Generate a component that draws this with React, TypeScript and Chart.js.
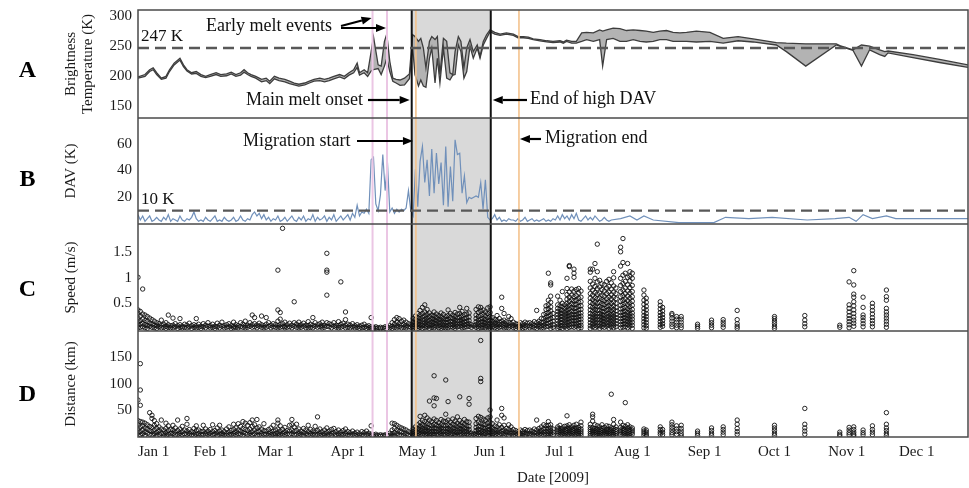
import React, { useEffect, useRef } from 'react';
import { Chart, registerables } from 'chart.js';

Chart.register(...registerables);

const SERIF = "'Liberation Serif', 'Times New Roman', Times, serif";
Chart.defaults.font.family = SERIF;

// ---------- x axis (day of 2009, Jan 1 = 0) ----------
const monthTickDays = [0, 31, 59, 90, 120, 151, 181, 212, 243, 273, 304, 334, 356];
const monthTickLabels = ['Jan 1', 'Feb 1', 'Mar 1', 'Apr 1', 'May 1', 'Jun 1', 'Jul 1', 'Aug 1', 'Sep 1', 'Oct 1', 'Nov 1', 'Dec 1', ''];
const dayRange = [0, 356];

// ---------- events ----------
const earlyMeltDays = [100.6, 106.8];
const meltOnsetDay = 117.4;
const highDavEndDay = 151.3;
const migrationStartDay = 119.2;
const migrationEndDay = 163.4;
const tbThreshold = 247;
const davThreshold = 10;

// ---------- y axes ----------
const tbTicks = [150, 200, 250, 300];
const davTicks = [20, 40, 60];
const speedTicks = [0.5, 1, 1.5];
const distTicks = [50, 100, 150];
const tbRange = [131, 310];
const davRange = [0, 79.3];
const speedRange = [-0.043, 2.055];
const distRange = [-1.2, 200];

// ---------- A: brightness temperature (K) ----------
const tbDays = [
  0, 3, 5, 6.5, 8, 10, 12, 13.5, 15.5, 18,
  19.5, 21, 23, 25, 27, 29, 31, 33.5, 35.5, 38,
  40, 42, 44, 45.5, 47, 48.5, 50.5, 53, 55, 56.5,
  58.5, 60.5, 63, 65, 67, 69, 71.5, 73.5, 75.5, 78,
  80, 82, 84, 86.5, 88.5, 90.5, 92.5, 94, 95, 97,
  98.5, 100, 101, 103, 104.3, 105.7, 106.7, 108, 109.3, 110.7,
  112.4, 114.3, 116.4, 117.8, 118.8, 120.3, 121.3, 122.4, 123.5, 125,
  126, 127.4, 128.4, 129.5, 131, 132.4, 133.8, 135, 136, 137.4,
  138.5, 139.8, 141, 142.4, 143.8, 145.5, 146.7, 148.1, 149.5, 151,
  153, 155.3, 158, 161, 163, 165.3, 167.4, 169.5, 172.4, 175.3,
  178, 181, 182.4, 183.8, 186, 188, 190.3, 192.4, 195.3, 198,
  199.3, 201, 203.8, 206.7, 209.5, 212.4, 215.3, 218, 221, 223.8,
  226.7, 229.5, 232.4, 235.3, 239.5, 245.3, 251, 257.4, 263.8, 273.8,
  278.1, 286.4, 299.5, 301, 306.7, 310.3, 313.8, 318.1, 320.3, 321.7,
  332.4, 343.8, 356,
];
const tbUpper = [
  199, 203, 211, 214, 206, 197, 200, 211, 222, 230,
  219, 211, 206, 208, 203, 200, 203, 206, 203, 204,
  207, 203, 206, 211, 206, 203, 200, 195, 197, 192,
  200, 197, 195, 192, 189, 187, 189, 192, 195, 197,
  195, 197, 200, 203, 200, 206, 211, 222, 206, 211,
  206, 241, 266, 219, 217, 258, 270, 225, 197, 195,
  194, 197, 204, 269, 266, 258, 263, 247, 214, 258,
  266, 261, 266, 203, 263, 258, 206, 203, 241, 266,
  258, 214, 247, 261, 241, 252, 233, 258, 269, 277,
  273, 270, 272, 270, 266, 266, 265, 262, 261, 259,
  258, 259, 257, 260, 258, 258, 272, 273, 272, 277,
  275, 277, 280, 279, 276, 277, 276, 275, 273, 275,
  276, 273, 272, 273, 275, 273, 263, 266, 262, 256,
  255, 254, 254, 251, 244, 252, 250, 244, 241, 242,
  236, 228, 219,
];
const tbLower = [
  197, 200, 208, 211, 203, 195, 197, 208, 219, 227,
  216, 209, 204, 205, 200, 198, 200, 203, 200, 201,
  204, 200, 202, 207, 203, 200, 197, 191, 193, 188,
  196, 193, 191, 188, 186, 184, 186, 189, 192, 193,
  191, 193, 196, 199, 196, 202, 206, 215, 202, 206,
  200, 209, 211, 213, 203, 217, 230, 208, 192, 189,
  185, 186, 196, 247, 203, 184, 194, 184, 182, 230,
  247, 189, 230, 189, 247, 197, 194, 202, 203, 252,
  241, 197, 208, 250, 230, 247, 230, 252, 263, 274,
  270, 268, 270, 268, 264, 264, 263, 261, 259, 257,
  256, 257, 255, 258, 255, 255, 258, 261, 258, 261,
  217, 261, 263, 258, 258, 261, 258, 257, 258, 261,
  261, 258, 258, 258, 257, 258, 255, 259, 257, 252,
  241, 217, 252, 250, 243, 217, 244, 236, 233, 239,
  231, 223, 215,
];

// ---------- B: DAV (K), daily from Jan 1 ----------
const davDaily = [
  7, 3, 6, 2, 4, 6, 2, 3, 5, 3,
  2, 5, 3, 7, 2, 4, 3, 2, 6, 3,
  2, 4, 3, 5, 9, 4, 2, 3, 2, 5,
  3, 2, 4, 6, 2, 3, 2, 5, 3, 2,
  3, 5, 2, 3, 6, 3, 2, 4, 3, 7,
  9, 6, 8, 4, 7, 3, 5, 2, 4, 3,
  6, 2, 3, 5, 2, 4, 6, 3, 2, 5,
  3, 6, 2, 4, 3, 7, 2, 5, 3, 4,
  6, 2, 5, 3, 7, 2, 4, 6, 3, 5,
  7, 3, 8, 5, 14, 6, 9, 8, 11, 8,
  48, 50, 15, 10, 22, 52, 25, 46, 9, 12,
  8, 11, 9, 11, 10, 12, 25, 10, 6, 41,
  13, 47, 58, 31, 48, 21, 56, 23, 53, 30,
  46, 14, 58, 13, 43, 17, 63, 52, 53, 23,
  36, 16, 20, 19, 20, 21, 20, 31, 11, 33,
  5, 3, 4, 7, 3, 5, 2, 3, 2, 4,
  3, 3, 2, 4, 2, 3, 5, 2, 3, 4,
  2, 3, 2, 3, 4, 2, 3, 2, 4, 3,
  6, 3, 7, 4, 6, 3, 7, 4, 8, 3,
  2, 4, 6, 3, 5, 3, 6, 4, 2, 3,
  5, 3, 2, 3,
];
const davLateDays = [207, 211, 214, 217, 221, 232, 240, 247, 252, 262, 272, 287, 299, 305, 308, 311, 315, 321, 325, 340, 356];
const davLateValues = [4, 6, 3, 6, 3, 1, 1, 1, 5, 4, 5, 3, 4, 5, 2, 7, 4, 6, 4, 4, 4];

// ---------- C: speed (m/s) per day ----------
const speedFixes: [number, number[]][] = [
  [0, [1.01, .37, .3, .21, .13, .07, .02]], [1, [.34, .25, .16, .09, .03]], [2, [.78, .29, .19, .11, .04]],
  [3, [.27, .16, .08, .02]], [4, [.24, .14, .06, .01]], [5, [.21, .11, .05]], [6, [.18, .09, .03]],
  [7, [.15, .07, .02]], [8, [.12, .06, .01]], [9, [.1, .04]], [10, [.17, .07, .02]], [11, [.09, .03]],
  [12, [.12, .05, .01]], [13, [.27, .08, .03]], [14, [.06, .02]], [15, [.21, .07, .02]], [16, [.1, .04]],
  [17, [.06, .01]], [18, [.2, .08, .03]], [19, [.05, .02]], [20, [.09, .03]], [21, [.07, .02]],
  [22, [.11, .04]], [23, [.06, .01]], [24, [.08, .03]], [25, [.2, .06, .02]], [26, [.09, .03]],
  [27, [.05, .01]], [28, [.1, .04]], [29, [.07, .02]], [30, [.12, .05]], [31, [.06, .02]],
  [32, [.09, .03]], [33, [.05, .01]], [34, [.11, .04]], [35, [.07, .02]], [36, [.13, .05]],
  [37, [.06, .02]], [38, [.08, .03]], [39, [.1, .04]], [40, [.06, .01]], [41, [.13, .05, .02]],
  [42, [.08, .03]], [43, [.06, .02]], [44, [.12, .04]], [45, [.09, .03]], [46, [.15, .06, .02]],
  [47, [.07, .03]], [48, [.12, .05]], [49, [.27, .08, .03]], [50, [.22, .1, .04]], [51, [.07, .02]],
  [52, [.11, .05]], [53, [.25, .08, .03]], [54, [.06, .02]], [55, [.22, .09, .03]], [56, [.12, .05]],
  [57, [.07, .02]], [58, [.1, .04]], [59, [.08, .03]], [60, [1.15, .37, .15, .06, .02]], [61, [.32, .19, .08, .03]],
  [62, [1.97, .1, .04]], [63, [.13, .05, .02]], [64, [.08, .03]], [65, [.11, .04]], [66, [.07, .02]],
  [67, [.53, .12, .05]], [68, [.09, .03]], [69, [.13, .06, .02]], [70, [.08, .03]], [71, [.11, .05]],
  [72, [.07, .02]], [73, [.14, .06, .02]], [74, [.09, .03]], [75, [.22, .07, .02]], [76, [.12, .05]],
  [77, [.08, .03]], [78, [.1, .04]], [79, [.13, .06, .02]], [80, [.07, .03]], [81, [1.48, 1.15, 1.11, .66, .12, .05]],
  [82, [.1, .04]], [83, [.08, .02]], [84, [.12, .05]], [85, [.07, .03]], [86, [.14, .06, .02]],
  [87, [.92, .09, .03]], [88, [.11, .05]], [89, [.33, .18, .07, .02]], [90, [.09, .03]], [91, [.07, .02]],
  [92, [.1, .04]], [93, [.06, .02]], [94, [.08, .03]], [95, [.05, .01]], [96, [.07, .02]],
  [97, [.09, .03]], [98, [.05, .01]], [99, [.06, .02]], [100, [.22, .04, .01]], [101, [.03, 0]],
  [102, [.04, .01]], [103, [.02]], [104, [.03, 0]], [105, [.02]], [106, [.04, .01]], [107, [.03]],
  [108, [.06, .02]], [109, [.12, .05, .01]], [110, [.18, .09, .03]], [111, [.22, .13, .06, .02]], [112, [.2, .1, .04]],
  [113, [.15, .07, .02]], [114, [.17, .08, .03]], [115, [.13, .06, .02]], [116, [.1, .04]], [117, [.08, .03]],
  [118, [.2, .14, .09, .04, .01]], [119, [.25, .18, .12, .07, .02]], [120, [.3, .22, .16, .1, .05, .01]],
  [121, [.36, .27, .2, .14, .08, .03]], [122, [.42, .3, .23, .17, .11, .06, .01]], [123, [.47, .33, .25, .18, .12, .07, .02]],
  [124, [.38, .28, .21, .15, .09, .04]], [125, [.31, .24, .17, .11, .06, .01]], [126, [.27, .2, .14, .08, .03]],
  [127, [.33, .25, .18, .12, .06, .02]], [128, [.29, .22, .16, .1, .05]], [129, [.26, .19, .13, .07, .02]],
  [130, [.31, .23, .17, .11, .05, .01]], [131, [.28, .2, .14, .08, .03]], [132, [.24, .18, .12, .06, .02]],
  [133, [.37, .26, .19, .13, .07, .02]], [134, [.3, .22, .15, .09, .04]], [135, [.27, .2, .14, .08, .03]],
  [136, [.32, .24, .17, .11, .05, .01]], [137, [.29, .21, .15, .09, .04]], [138, [.42, .3, .22, .16, .1, .05]],
  [139, [.34, .25, .18, .12, .06, .02]], [140, [.28, .2, .14, .08, .03]], [141, [.4, .29, .21, .15, .09, .04]],
  [142, [.31, .23, .16, .1, .05]], [143, [.08, .03]], [144, [.06]], [145, [.38, .27, .2, .14, .08, .03]],
  [146, [.43, .32, .24, .17, .11, .05, .01]], [147, [.42, .35, .26, .19, .13, .07, .02]], [148, [.37, .28, .2, .14, .08, .03]],
  [149, [.33, .25, .18, .12, .06, .02]], [150, [.41, .3, .22, .15, .09, .04]], [151, [.43, .32, .24, .17, .11, .05, .01]],
  [152, [.22, .15, .09, .04]], [153, [.18, .12, .07, .02]], [154, [.26, .16, .1, .05, .01]], [155, [.2, .13, .08, .03]],
  [156, [.62, .4, .15, .09, .04]], [157, [.3, .17, .11, .06, .02]], [158, [.14, .08, .03]], [159, [.24, .12, .06, .02]],
  [160, [.2, .1, .05]], [161, [.13, .07, .02]], [162, [.1, .05, .01]], [163, [.09, .04]], [164, [.12, .06, .02]],
  [165, [.1, .05, .01]], [166, [.13, .07, .02]], [167, [.11, .05]], [168, [.12, .06, .02]], [169, [.1, .04]],
  [170, [.14, .07, .02]], [171, [.36, .12, .06, .01]], [172, [.15, .09, .04]], [173, [.2, .12, .06, .02]],
  [174, [.28, .2, .13, .07, .02]], [175, [.45, .38, .3, .23, .16, .1, .04]], [176, [1.09, .56, .47, .39, .32, .25, .18, .11, .05]],
  [177, [.9, .86, .64, .52, .43, .35, .27, .2, .13, .06, .01]], [178, [.3, .22, .15, .08, .03]],
  [180, [.64, .47, .4, .34, .28, .22, .16, .1, .05, .01]], [181, [.56, .45, .38, .31, .25, .19, .13, .07, .02]],
  [182, [.73, .5, .43, .36, .3, .24, .18, .12, .06, .01]], [183, [.47, .4, .33, .27, .21, .15, .09, .04]],
  [184, [.99, .79, .67, .58, .5, .43, .36, .3, .24, .18, .12, .06, .01]], [185, [1.24, 1.22, .72, .62, .54, .46, .39, .32, .26, .2, .14, .08, .03]],
  [186, [.78, .66, .57, .49, .42, .35, .28, .22, .16, .1, .04]], [187, [1.17, 1.09, 1.01, .74, .63, .55, .47, .4, .33, .27, .21, .15, .09, .03]],
  [188, [.77, .65, .56, .48, .41, .34, .28, .22, .16, .1, .05]], [189, [.79, .7, .6, .52, .44, .37, .3, .24, .18, .12, .06, .01]],
  [190, [.74, .62, .53, .45, .38, .31, .25, .19, .13, .07, .02]],
  [194, [1.17, 1.11, .93, .8, .69, .6, .52, .44, .37, .3, .24, .18, .12, .06, .01]], [195, [1.17, .88, .76, .66, .57, .49, .42, .35, .28, .22, .16, .1, .04]],
  [196, [1.28, .99, .83, .71, .61, .53, .45, .38, .31, .25, .19, .13, .07, .02]], [197, [1.66, 1.12, .92, .79, .68, .59, .5, .43, .36, .29, .23, .17, .11, .05]],
  [198, [.95, .82, .7, .6, .52, .44, .37, .3, .24, .18, .12, .06, .01]], [199, [.88, .77, .66, .57, .49, .41, .34, .28, .22, .16, .1, .04]],
  [200, [.86, .74, .64, .55, .47, .4, .33, .26, .2, .14, .08, .03]], [201, [.93, .8, .69, .59, .51, .43, .36, .29, .23, .17, .11, .05]],
  [202, [.97, .83, .72, .62, .53, .45, .38, .31, .25, .19, .13, .07, .01]], [203, [.9, .78, .67, .58, .5, .42, .35, .28, .22, .16, .1, .04]],
  [204, [1.12, 1, .84, .72, .62, .53, .45, .38, .31, .25, .19, .13, .07, .02]], [205, [.8, .69, .59, .5, .42, .35, .28, .22, .16, .1, .04]],
  [207, [1.6, 1.51, 1.23, .99, .85, .73, .63, .54, .46, .39, .32, .26, .2, .14, .08, .02]], [208, [1.77, 1.3, 1.05, .89, .76, .65, .56, .48, .4, .33, .27, .21, .15, .09, .03]],
  [209, [1.09, .93, .8, .69, .59, .5, .42, .35, .28, .22, .16, .1, .04]], [210, [1.28, 1.01, .86, .74, .64, .55, .47, .39, .32, .26, .2, .14, .08, .02]],
  [211, [1.12, 1.03, .94, .81, .7, .6, .51, .43, .36, .29, .23, .17, .11, .05]], [212, [1.09, .99, .85, .73, .63, .54, .46, .38, .31, .25, .19, .13, .07, .01]],
  [217, [.76, .66, .56, .48, .4, .33, .26, .2, .14, .08, .02]], [218, [.6, .52, .44, .37, .3, .24, .18, .12, .06, .01]],
  [224, [.53, .46, .39, .32, .26, .2, .14, .08, .03]], [225, [.42, .35, .28, .22, .16, .1, .05]],
  [229, [.3, .27, .21, .15, .09, .04]], [231, [.24, .19, .13, .07, .02]], [233, [.24, .19, .13, .07, .02]],
  [240, [.09, .05, .01]], [246, [.17, .12, .07, .02]], [251, [.18, .13, .08, .03]], [257, [.36, .18, .1, .05, .01]],
  [273, [.24, .2, .15, .1, .05, .01]], [286, [.26, .17, .1, .04]], [301, [.07, .03]],
  [305, [.92, .47, .4, .33, .26, .2, .14, .08, .02]], [307, [1.14, .86, .68, .62, .53, .45, .37, .3, .23, .17, .11, .05]],
  [311, [.62, .42, .27, .22, .16, .1, .04]], [315, [.5, .43, .36, .29, .22, .16, .1, .04]],
  [321, [.76, .63, .56, .4, .33, .27, .21, .15, .09, .03]],
];

// ---------- D: distance (km) per day ----------
const distFixes: [number, number[]][] = [
  [0, [69, 30, 22, 14, 7, 2]], [1, [138, 88, 59, 28, 18, 9, 3]], [2, [27, 20, 12, 5]], [3, [25, 16, 8, 2]],
  [4, [22, 14, 6]], [5, [45, 19, 11, 4]], [6, [40, 34, 17, 9, 3]], [7, [30, 21, 12, 5]], [8, [24, 15, 7, 2]],
  [9, [18, 10, 4]], [10, [31, 14, 6]], [11, [12, 5, 1]], [12, [25, 15, 7, 2]], [13, [20, 11, 4]],
  [14, [13, 6, 1]], [15, [21, 12, 5]], [16, [16, 8, 3]], [17, [31, 11, 4]], [18, [14, 6, 2]],
  [19, [19, 9, 3]], [20, [12, 5]], [21, [34, 23, 10, 4]], [22, [13, 6, 2]], [23, [9, 3]],
  [24, [15, 7, 2]], [25, [20, 11, 4]], [26, [12, 5, 1]], [27, [9, 3]], [28, [21, 10, 4]],
  [29, [14, 6, 2]], [30, [10, 4]], [31, [13, 6, 1]], [32, [22, 9, 3]], [33, [11, 5]],
  [34, [16, 7, 2]], [35, [21, 10, 4]], [36, [12, 5, 1]], [37, [9, 3]], [38, [14, 6, 2]],
  [39, [18, 8, 3]], [40, [11, 4]], [41, [23, 13, 6, 2]], [42, [16, 8, 3]], [43, [24, 12, 5]],
  [44, [19, 10, 4]], [45, [28, 15, 7, 2]], [46, [25, 13, 6]], [47, [21, 11, 4]], [48, [26, 14, 6, 2]],
  [49, [31, 19, 9, 3]], [50, [22, 12, 5]], [51, [32, 16, 8, 2]], [52, [18, 9, 3]], [53, [14, 6, 2]],
  [54, [24, 11, 4]], [55, [10, 4]], [56, [13, 6, 2]], [57, [16, 7, 3]], [58, [21, 10, 4]],
  [59, [12, 5, 1]], [60, [31, 25, 14, 6, 2]], [61, [20, 10, 4]], [62, [13, 6, 2]], [63, [17, 8, 3]],
  [64, [11, 5]], [65, [21, 10, 4]], [66, [32, 22, 12, 5]], [67, [18, 9, 3]], [68, [23, 11, 4]],
  [69, [14, 6, 2]], [70, [10, 4]], [71, [15, 7, 2]], [72, [12, 5]], [73, [21, 9, 3]],
  [74, [13, 6, 2]], [75, [10, 4]], [76, [19, 8, 3]], [77, [37, 11, 4]], [78, [14, 6, 2]],
  [79, [9, 3]], [80, [12, 5, 1]], [81, [16, 7, 2]], [82, [10, 4]], [83, [13, 6, 2]],
  [84, [15, 6]], [85, [9, 3]], [86, [12, 5, 1]], [87, [8, 3]], [88, [11, 4]],
  [89, [14, 6, 2]], [90, [9, 3]], [91, [7, 2]], [92, [10, 4]], [93, [6, 2]],
  [94, [8, 3]], [95, [5, 1]], [96, [9, 3]], [97, [7, 2]], [98, [10, 4]],
  [99, [6, 2]], [100, [20, 4, 1]], [101, [3, 0]], [102, [4, 1]], [103, [2]],
  [104, [3, 0]], [105, [2]], [106, [3, 1]], [107, [2]], [108, [6, 2]],
  [109, [25, 12, 5, 1]], [110, [24, 15, 7, 2]], [111, [21, 12, 5]], [112, [18, 9, 3]], [113, [16, 8, 2]],
  [114, [14, 6, 2]], [115, [12, 5]], [116, [9, 3]], [117, [7, 2]],
  [118, [14, 9, 4, 1]], [119, [18, 12, 7, 3]], [120, [22, 15, 10, 5, 1]], [121, [38, 26, 19, 13, 8, 3]],
  [122, [30, 22, 16, 11, 6, 2]], [123, [40, 28, 20, 14, 9, 4]], [124, [35, 24, 17, 11, 6, 2]],
  [125, [67, 31, 22, 15, 10, 5, 1]], [126, [28, 20, 14, 9, 4]], [127, [115, 73, 58, 33, 23, 16, 10, 5, 1]],
  [128, [72, 30, 21, 15, 9, 4]], [129, [26, 19, 13, 8, 3]], [130, [32, 22, 16, 10, 5, 1]], [131, [29, 20, 14, 9, 4]],
  [132, [107, 42, 28, 20, 14, 8, 3]], [133, [66, 31, 22, 15, 10, 5, 1]], [134, [27, 19, 13, 8, 3]],
  [135, [33, 23, 16, 10, 5]], [136, [29, 21, 14, 9, 4, 1]], [137, [37, 25, 18, 12, 7, 2]],
  [138, [75, 30, 21, 15, 9, 4]], [139, [26, 19, 13, 8, 3]], [140, [32, 23, 16, 10, 5, 1]],
  [141, [28, 20, 14, 9, 4]], [142, [72, 61, 27, 19, 13, 8, 3]], [143, [6, 2]], [144, [4]],
  [145, [34, 24, 17, 11, 6, 2]], [146, [38, 27, 19, 13, 8, 3]], [147, [182, 110, 104, 36, 25, 18, 12, 7, 2]],
  [148, [33, 23, 16, 10, 5, 1]], [149, [31, 22, 15, 10, 5]], [150, [35, 25, 18, 12, 7, 2]],
  [151, [50, 37, 27, 19, 13, 8, 3]],
  [152, [24, 16, 10, 5, 1]], [153, [20, 13, 8, 3]], [154, [31, 18, 11, 6, 2]], [155, [22, 14, 8, 3]],
  [156, [53, 40, 17, 10, 5]], [157, [35, 21, 12, 6, 2]], [158, [15, 9, 4]], [159, [22, 13, 7, 2]],
  [160, [18, 10, 5]], [161, [13, 7, 2]], [162, [11, 6, 1]], [163, [9, 4]], [164, [12, 6, 2]],
  [165, [10, 5, 1]], [166, [13, 7, 2]], [167, [11, 5]], [168, [12, 6, 2]], [169, [10, 4]],
  [170, [14, 7, 2]], [171, [31, 12, 6, 1]], [172, [15, 9, 4]], [173, [18, 11, 6, 2]], [174, [22, 14, 8, 3]],
  [175, [20, 14, 9, 4]], [176, [28, 21, 15, 10, 5, 1]], [177, [22, 16, 11, 6, 2]], [178, [14, 8, 3]],
  [180, [18, 14, 10, 6, 2]], [181, [21, 15, 11, 7, 3]], [182, [16, 12, 8, 4]], [183, [19, 13, 9, 5, 1]],
  [184, [39, 20, 15, 11, 7, 3]], [185, [22, 16, 12, 8, 4]], [186, [18, 13, 9, 5, 1]], [187, [21, 15, 11, 7, 3]],
  [188, [23, 16, 12, 8, 4]], [189, [17, 13, 9, 5, 1]], [190, [27, 20, 14, 10, 6, 2]],
  [194, [23, 17, 13, 9, 5, 1]], [195, [42, 37, 29, 16, 12, 8, 4]], [196, [22, 15, 11, 7, 3]], [197, [20, 14, 10, 6, 2]],
  [198, [18, 13, 9, 5, 1]], [199, [22, 15, 11, 7, 3]], [200, [17, 12, 8, 4]], [201, [20, 14, 10, 6, 2]],
  [202, [19, 13, 9, 5, 1]], [203, [80, 16, 12, 8, 4]], [204, [32, 23, 15, 11, 7, 3]], [205, [18, 13, 9, 5, 1]],
  [207, [27, 17, 12, 8, 4]], [208, [21, 15, 11, 7, 3]], [209, [64, 19, 13, 9, 5, 1]], [210, [22, 16, 11, 7, 3]],
  [211, [18, 13, 9, 5, 1]], [212, [16, 12, 8, 4]],
  [217, [14, 10, 6, 2]], [218, [12, 8, 4, 1]], [224, [18, 13, 8, 4]], [225, [13, 8, 3]],
  [229, [27, 22, 17, 12, 7, 3]], [231, [20, 14, 9, 4]], [233, [21, 15, 10, 5, 1]], [240, [10, 6, 2]],
  [246, [16, 11, 6, 2]], [251, [18, 13, 8, 3]], [257, [31, 23, 15, 9, 4]], [273, [21, 16, 11, 6, 2]],
  [286, [53, 23, 16, 10, 4]], [301, [8, 4, 1]], [305, [17, 12, 7, 3]], [307, [18, 13, 8, 4, 1]],
  [311, [12, 7, 3]], [315, [20, 13, 8, 3]], [321, [45, 23, 16, 11, 6, 2]],
];

// ---------- styling ----------
const INK = '#1a1a1a';
const SHADE = '#d9d9d9';
const PINK = '#ebc6e4';
const ORANGE = '#f3c28c';

type Panel = 'A' | 'B' | 'C' | 'D';

function yScale(range: number[], ticks: number[], title: string | string[]) {
  return {
    type: 'linear',
    position: 'left',
    min: range[0],
    max: range[1],
    afterBuildTicks: (s: any) => {
      s.ticks = ticks.map((v) => ({ value: v }));
    },
    afterFit: (s: any) => {
      s.width = 138;
      s.paddingTop = 0;
      s.paddingBottom = 0;
    },
    grid: { display: false, drawTicks: false },
    border: { display: false },
    ticks: { padding: 6, color: INK, font: { family: SERIF, size: 15 }, callback: (v: any) => String(v) },
    title: {
      display: true,
      text: title,
      color: INK,
      font: { family: SERIF, size: 15, lineHeight: 1.15 },
      padding: { top: 62, bottom: 0 },
    },
  };
}

function xScale(show: boolean) {
  return {
    type: 'linear',
    min: dayRange[0],
    max: dayRange[1],
    display: show,
    afterBuildTicks: (s: any) => {
      s.ticks = monthTickDays.map((v) => ({ value: v }));
    },
    afterFit: (s: any) => {
      if (show) s.height = 51;
      s.paddingLeft = 0;
      s.paddingRight = 0;
    },
    grid: { display: false, drawTicks: false },
    border: { display: false },
    ticks: {
      align: 'inner',
      autoSkip: false,
      maxRotation: 0,
      padding: 6,
      color: INK,
      font: { family: SERIF, size: 15 },
      callback: (_v: any, i: number) => monthTickLabels[i],
    },
    title: {
      display: show,
      text: 'Date [2009]',
      color: INK,
      font: { family: SERIF, size: 15, lineHeight: 1.15 },
      padding: { top: 8, bottom: 1.5 },
    },
  };
}

function arrow(ctx: CanvasRenderingContext2D, x1: number, y1: number, x2: number, y2: number) {
  const ang = Math.atan2(y2 - y1, x2 - x1);
  const len = 10;
  const hw = 4;
  const bx = x2 - len * Math.cos(ang);
  const by = y2 - len * Math.sin(ang);
  ctx.beginPath();
  ctx.moveTo(x1, y1);
  ctx.lineTo(bx, by);
  ctx.lineWidth = 2.2;
  ctx.strokeStyle = '#000';
  ctx.stroke();
  ctx.beginPath();
  ctx.moveTo(x2, y2);
  ctx.lineTo(bx - hw * Math.sin(ang), by + hw * Math.cos(ang));
  ctx.lineTo(bx + hw * Math.sin(ang), by - hw * Math.cos(ang));
  ctx.closePath();
  ctx.fillStyle = '#000';
  ctx.fill();
}

function text(ctx: CanvasRenderingContext2D, s: string, x: number, y: number, size: number, weight = '') {
  ctx.font = `${weight} ${size}px ${SERIF}`.trim();
  ctx.fillStyle = '#111';
  ctx.textAlign = 'left';
  ctx.textBaseline = 'alphabetic';
  ctx.fillText(s, x, y);
}

const letterBaseline: Record<Panel, number> = { A: 76.5, B: 68, C: 71.5, D: 70 };

function overlay(panel: Panel) {
  return {
    id: 'overlay' + panel,
    beforeDatasetsDraw(chart: any) {
      const { ctx, chartArea: a } = chart;
      const xs = chart.scales.x;
      const x1 = xs.getPixelForValue(meltOnsetDay);
      const x2 = xs.getPixelForValue(highDavEndDay);
      ctx.save();
      ctx.fillStyle = SHADE;
      if (panel === 'A') {
        ctx.beginPath();
        ctx.rect(x1, a.top, x2 - x1, a.bottom - a.top);
        ctx.clip();
        const pts = chart.getDatasetMeta(0).data;
        ctx.beginPath();
        ctx.moveTo(pts[0].x, a.top);
        pts.forEach((p: any) => ctx.lineTo(p.x, p.y));
        ctx.lineTo(pts[pts.length - 1].x, a.top);
        ctx.closePath();
        ctx.fill();
      } else {
        ctx.fillRect(x1, a.top, x2 - x1, a.bottom - a.top);
      }
      ctx.restore();
    },
    afterDatasetsDraw(chart: any) {
      const { ctx, chartArea: a } = chart;
      const xs = chart.scales.x;
      const ys = chart.scales.y;
      const px = (d: number) => xs.getPixelForValue(d);
      ctx.save();
      const vline = (d: number, color: string, w: number) => {
        ctx.beginPath();
        ctx.moveTo(px(d), a.top);
        ctx.lineTo(px(d), a.bottom);
        ctx.strokeStyle = color;
        ctx.lineWidth = w;
        ctx.stroke();
      };
      earlyMeltDays.forEach((d) => vline(d, PINK, 2));
      vline(migrationStartDay, ORANGE, 1.6);
      vline(migrationEndDay, ORANGE, 1.6);
      vline(meltOnsetDay, '#111', 2);
      vline(highDavEndDay, '#111', 2);

      const dashed = (v: number) => {
        const y = ys.getPixelForValue(v);
        ctx.beginPath();
        ctx.setLineDash([11, 6]);
        ctx.moveTo(a.left, y);
        ctx.lineTo(a.right, y);
        ctx.strokeStyle = '#585858';
        ctx.lineWidth = 2.4;
        ctx.stroke();
        ctx.setLineDash([]);
      };
      if (panel === 'A') dashed(tbThreshold);
      if (panel === 'B') dashed(davThreshold);

      ctx.strokeStyle = '#4a4a4a';
      ctx.lineWidth = 1.5;
      ctx.strokeRect(a.left, a.top, a.right - a.left, a.bottom - a.top);

      if (panel === 'A') {
        text(ctx, '247 K', 141, 41, 17);
        text(ctx, 'Early melt events', 206, 31, 18);
        arrow(ctx, 341, 26, px(earlyMeltDays[0]) - 1, 18);
        arrow(ctx, 341, 28, px(earlyMeltDays[1]) - 1, 28);
        text(ctx, 'Main melt onset', 246, 105, 18);
        arrow(ctx, 368, 100, px(meltOnsetDay) - 2, 100);
        text(ctx, 'End of high DAV', 530, 104, 18);
        arrow(ctx, 527, 100, px(highDavEndDay) + 2, 100);
      }
      if (panel === 'B') {
        text(ctx, '10 K', 141, 86, 17);
        text(ctx, 'Migration start', 243, 28, 18);
        arrow(ctx, 357, 23, px(migrationStartDay) - 3, 23);
        text(ctx, 'Migration end', 545, 25, 18);
        arrow(ctx, 541, 21, px(migrationEndDay) + 1, 21);
      }

      ctx.font = `bold 24px ${SERIF}`;
      ctx.fillStyle = '#000';
      ctx.textAlign = 'center';
      ctx.textBaseline = 'alphabetic';
      ctx.fillText(panel, 27.5, letterBaseline[panel]);
      ctx.restore();
    },
  };
}

function baseOptions(padTop: number) {
  return {
    responsive: false,
    maintainAspectRatio: false,
    animation: false,
    events: [],
    layout: { autoPadding: false, padding: { top: padTop, right: 1, bottom: 0, left: 0 } },
    plugins: { legend: { display: false }, tooltip: { enabled: false } },
  };
}

export default function App() {
  const refA = useRef<HTMLCanvasElement>(null);
  const refB = useRef<HTMLCanvasElement>(null);
  const refC = useRef<HTMLCanvasElement>(null);
  const refD = useRef<HTMLCanvasElement>(null);

  useEffect(() => {
    document.body.style.margin = '0';

    const tbUpperPts = tbDays.map((d, i) => ({ x: d, y: tbUpper[i] }));
    const tbLowerPts = tbDays.map((d, i) => ({ x: d, y: tbLower[i] }));
    const davPts = davDaily
      .map((v, i) => ({ x: i, y: v }))
      .concat(davLateDays.map((d, i) => ({ x: d, y: davLateValues[i] })));
    const speedPts = speedFixes.flatMap(([d, vs]) => vs.map((v) => ({ x: d, y: v })));
    const distPts = distFixes.flatMap(([d, vs]) => vs.map((v) => ({ x: d, y: v })));

    const scatterStyle = {
      pointRadius: 2.2,
      pointBorderWidth: 0.9,
      pointBorderColor: '#111',
      pointBackgroundColor: 'rgba(255,255,255,0)',
      pointStyle: 'circle',
    };

    const charts: Chart[] = [];
    charts.push(
      new Chart(refA.current as HTMLCanvasElement, {
        type: 'line',
        data: {
          datasets: [
            { data: tbUpperPts, borderColor: '#3d3d3d', borderWidth: 1.3, pointRadius: 0, fill: false, tension: 0 },
            { data: tbLowerPts, borderColor: '#3d3d3d', borderWidth: 1.3, pointRadius: 0, fill: '-1', backgroundColor: '#b3b3b3', tension: 0 },
          ],
        },
        options: {
          ...baseOptions(10),
          scales: { x: xScale(false), y: yScale(tbRange, tbTicks, ['Brightness', 'Temperature (K)']) },
        } as any,
        plugins: [overlay('A')],
      }),
    );
    charts.push(
      new Chart(refB.current as HTMLCanvasElement, {
        type: 'line',
        data: {
          datasets: [{ data: davPts, borderColor: '#7090ba', borderWidth: 1.2, pointRadius: 0, fill: false, tension: 0 }],
        },
        options: {
          ...baseOptions(0),
          scales: { x: xScale(false), y: yScale(davRange, davTicks, 'DAV (K)') },
        } as any,
        plugins: [overlay('B')],
      }),
    );
    charts.push(
      new Chart(refC.current as HTMLCanvasElement, {
        type: 'scatter',
        data: { datasets: [{ data: speedPts, ...scatterStyle }] },
        options: {
          ...baseOptions(0),
          scales: { x: xScale(false), y: yScale(speedRange, speedTicks, 'Speed (m/s)') },
        } as any,
        plugins: [overlay('C')],
      }),
    );
    charts.push(
      new Chart(refD.current as HTMLCanvasElement, {
        type: 'scatter',
        data: { datasets: [{ data: distPts, ...scatterStyle }] },
        options: {
          ...baseOptions(0),
          scales: { x: xScale(true), y: yScale(distRange, distTicks, 'Distance (km)') },
        } as any,
        plugins: [overlay('D')],
      }),
    );

    return () => charts.forEach((c) => c.destroy());
  }, []);

  const cs = { display: 'block' } as const;
  return (
    <div style={{ width: 969, height: 488, background: '#fff' }}>
      <canvas ref={refA} width={969} height={118} style={cs} />
      <canvas ref={refB} width={969} height={106} style={cs} />
      <canvas ref={refC} width={969} height={107} style={cs} />
      <canvas ref={refD} width={969} height={157} style={cs} />
    </div>
  );
}
